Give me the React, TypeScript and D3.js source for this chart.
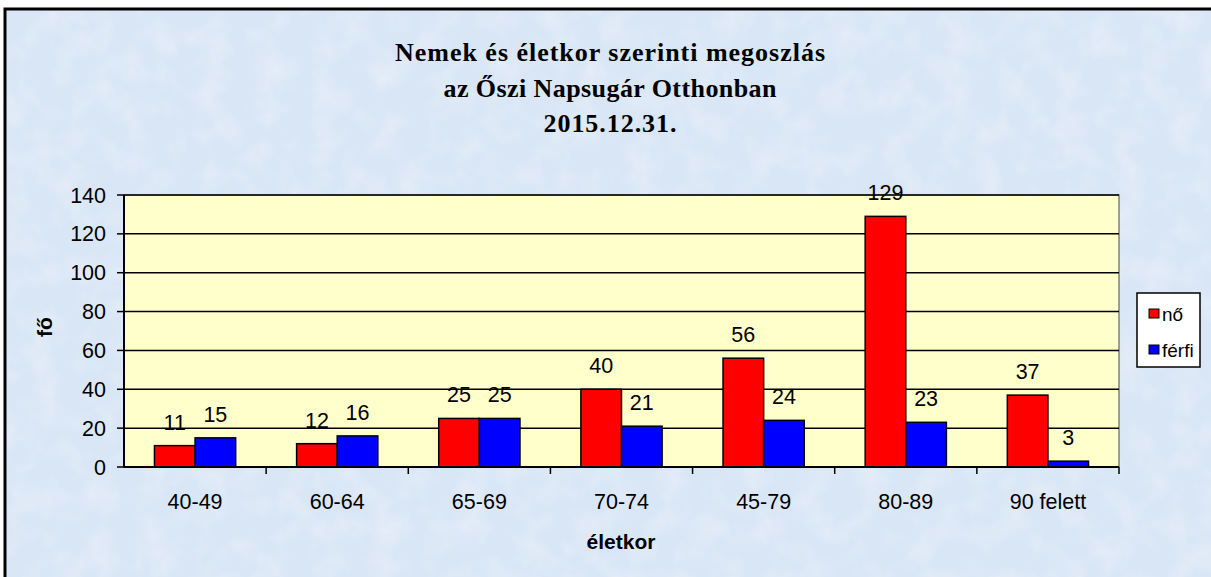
import React from "react";
import * as d3 from "d3";

const categories = ["40-49", "60-64", "65-69", "70-74", "45-79", "80-89", "90 felett"];
const seriesNames = ["nő", "férfi"];
const noValues = [11, 12, 25, 40, 56, 129, 37];
const ferfiValues = [15, 16, 25, 21, 24, 23, 3];
const yTicks = [0, 20, 40, 60, 80, 100, 120, 140];
const titleLines = ["Nemek és életkor szerinti megoszlás", "az Őszi Napsugár Otthonban", "2015.12.31."];
const colors = ["#ff0000", "#0000ff"];

export default function App() {
  const W = 1211, H = 577;
  const plot = { left: 124, top: 195, right: 1119, bottom: 467 };
  const x0 = d3.scaleBand().domain(categories).range([plot.left, plot.right]).paddingInner(0).paddingOuter(0);
  const y = d3.scaleLinear().domain([0, 140]).range([plot.bottom, plot.top]);
  const groupW = x0.bandwidth();
  const barW = groupW / 3.5;
  const x1 = d3.scaleBand().domain(seriesNames).range([0, barW * 2]);
  const series = [noValues, ferfiValues];
  const titleWidths = [430, 333, 133];
  const titleBaselines = [61, 97, 132];
  const sans = "'Liberation Sans', Arial, sans-serif";

  return (
    <svg width={W} height={H} style={{ position: "absolute", left: 0, top: 0 }} xmlns="http://www.w3.org/2000/svg">
      <defs>
        <filter id="tex" x="0" y="0" width="100%" height="100%">
          <feTurbulence type="fractalNoise" baseFrequency="0.035" numOctaves="3" seed="4" result="n" />
          <feColorMatrix type="matrix" values="0 0 0 0 1  0 0 0 0 1  0 0 0 0 1  0 0 0 1.1 -0.45" />
        </filter>
      </defs>
      <rect x={0} y={0} width={W} height={H} fill="#ffffff" />
      <rect x={5} y={9} width={W + 20} height={H + 20} fill="#d9e6f5" stroke="#000" strokeWidth={3} />
      <rect x={7} y={11} width={W} height={H} filter="url(#tex)" opacity={0.55} />

      {titleLines.map((t, i) => (
        <text key={i} x={610} y={titleBaselines[i]} textAnchor="middle" fontFamily="'Liberation Serif', 'Times New Roman', serif"
          fontWeight="bold" fontSize={26} fill="#000" textLength={titleWidths[i]} lengthAdjust="spacing">{t}</text>
      ))}

      <rect x={plot.left} y={plot.top} width={plot.right - plot.left} height={plot.bottom - plot.top} fill="#ffffcc" stroke="#808080" strokeWidth={1.5} />
      {yTicks.filter(v => v > 0).map(v => (
        <line key={v} x1={plot.left} x2={plot.right} y1={y(v)} y2={y(v)} stroke="#000" strokeWidth={1.5} />
      ))}

      {categories.map((c, i) => (
        <g key={c} transform={`translate(${x0(c)! + (groupW - barW * 2) / 2},0)`}>
          {series.map((s, j) => (
            <rect key={j} x={x1(seriesNames[j])!} y={y(s[i])} width={x1.bandwidth()} height={plot.bottom - y(s[i])}
              fill={colors[j]} stroke="#000" strokeWidth={1.5} />
          ))}
        </g>
      ))}
      {categories.map((c, i) => (
        <g key={c + "l"} transform={`translate(${x0(c)! + (groupW - barW * 2) / 2},0)`}>
          {series.map((s, j) => (
            <text key={j} x={x1(seriesNames[j])! + x1.bandwidth() / 2} y={y(s[i]) - 16} textAnchor="middle"
              fontFamily={sans} fontSize={21.5} fill="#000">{s[i]}</text>
          ))}
        </g>
      ))}

      <line x1={plot.left} x2={plot.left} y1={plot.top} y2={plot.bottom} stroke="#000" strokeWidth={2} />
      <line x1={plot.left} x2={plot.right} y1={plot.bottom} y2={plot.bottom} stroke="#000" strokeWidth={2} />
      {yTicks.map(v => (
        <g key={v}>
          <line x1={plot.left - 7} x2={plot.left} y1={y(v)} y2={y(v)} stroke="#000" strokeWidth={1.5} />
          <text x={106} y={y(v) + 7.5} textAnchor="end" fontFamily={sans} fontSize={21.5} fill="#000">{v}</text>
        </g>
      ))}
      {categories.map(c => (
        <line key={c + "t"} x1={x0(c)! + groupW} x2={x0(c)! + groupW} y1={plot.bottom} y2={plot.bottom + 7} stroke="#000" strokeWidth={1.5} />
      ))}
      {categories.map(c => (
        <text key={c + "c"} x={x0(c)! + groupW / 2} y={509} textAnchor="middle" fontFamily={sans} fontSize={21.5} fill="#000">{c}</text>
      ))}

      <text x={621} y={549} textAnchor="middle" fontFamily={sans} fontWeight="bold" fontSize={21} fill="#000">életkor</text>
      <text transform="translate(52,327) rotate(-90)" textAnchor="middle" fontFamily={sans} fontWeight="bold" fontSize={21} fill="#000">fő</text>

      <rect x={1137} y={293} width={63} height={74} fill="#fff" stroke="#000" strokeWidth={1.5} />
      {seriesNames.map((n, j) => (
        <g key={n}>
          <rect x={1149} y={309 + j * 36} width={10} height={9} fill={colors[j]} stroke="#000" strokeWidth={1} />
          <text x={1162} y={321 + j * 36} fontFamily={sans} fontSize={19} fill="#000">{n}</text>
        </g>
      ))}
    </svg>
  );
}
